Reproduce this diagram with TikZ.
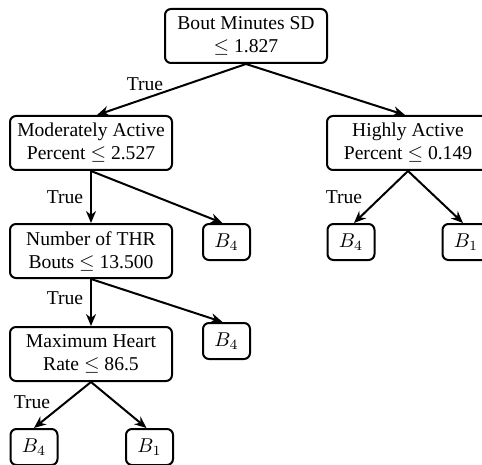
\documentclass[tikz,border=0pt]{standalone}
\usepackage{fontspec}
\setmainfont{Liberation Serif}
\usetikzlibrary{arrows.meta, positioning}

\begin{document}
\begin{tikzpicture}[x=0.5pt, y=-0.5pt]
    % --- Style Definitions ---
    \tikzset{
        split box/.style={
            draw=black,
            line width=1pt,
            rounded corners=3pt,
            minimum width=81pt,
            minimum height=27pt,
            align=center,
            inner sep=1pt,
            font=\fontsize{9.8}{11.5}\selectfont
        },
        leaf box/.style={
            draw=black,
            line width=1pt,
            rounded corners=3pt,
            minimum width=23.5pt,
            minimum height=18pt,
            inner sep=1pt,
            font=\fontsize{9.8}{11.5}\selectfont
        },
        branch arrow/.style={
            -{Stealth[length=6pt, width=5pt]},
            line width=1pt
        },
        true label/.style={
            font=\fontsize{9.8}{11.5}\selectfont,
            inner sep=0pt
        }
    }

    % Page size (pixels of the reference)
    \useasboundingbox (0,0) rectangle (482,465);

    % --- 1. Split nodes ---
    \node[split box] (root)    at (246,36)  {Bout Minutes SD\\$\leq$ 1.827};
    \node[split box] (modact)  at (91,143)  {Moderately Active\\Percent $\leq$ 2.527};
    \node[split box] (highact) at (408,143) {Highly Active\\Percent $\leq$ 0.149};
    \node[split box] (thr)     at (91,251)  {Number of THR\\Bouts $\leq$ 13.500};
    \node[split box] (maxhr)   at (91,354)  {Maximum Heart\\Rate $\leq$ 86.5};

    % --- 2. Leaf nodes ---
    \node[leaf box] (leafA) at (226.5,242) {$B_4$};
    \node[leaf box] (leafB) at (351,242)   {$B_4$};
    \node[leaf box] (leafC) at (466,242)   {$B_1$};
    \node[leaf box] (leafD) at (226.5,341) {$B_4$};
    \node[leaf box] (leafE) at (34,447)    {$B_4$};
    \node[leaf box] (leafF) at (149.5,447) {$B_1$};

    % --- 3. Branches ---
    \draw[branch arrow] (root.south) -- ([xshift=3pt]modact.north);
    \draw[branch arrow] (root.south) -- ([xshift=-1.5pt]highact.north);
    \draw[branch arrow] (modact.south) -- (thr.north);
    \draw[branch arrow] (modact.south) -- ([xshift=-2pt]leafA.north);
    \draw[branch arrow] (highact.south) -- ([xshift=1.5pt]leafB.north);
    \draw[branch arrow] (highact.south) -- ([xshift=-1.5pt]leafC.north);
    \draw[branch arrow] (thr.south) -- (maxhr.north);
    \draw[branch arrow] (thr.south) -- ([xshift=-2pt]leafD.north);
    \draw[branch arrow] (maxhr.south) -- (leafE.north);
    \draw[branch arrow] (maxhr.south) -- ([xshift=-1.5pt]leafF.north);

    % --- 4. True labels ---
    \node[true label] (t1) at (145,84)  {True};
    \node[true label] (t2) at (65,197)  {True};
    \node[true label] (t3) at (344,197) {True};
    \node[true label] (t4) at (65,298)  {True};
    \node[true label] (t5) at (32,402)  {True};

\end{tikzpicture}
\end{document}
